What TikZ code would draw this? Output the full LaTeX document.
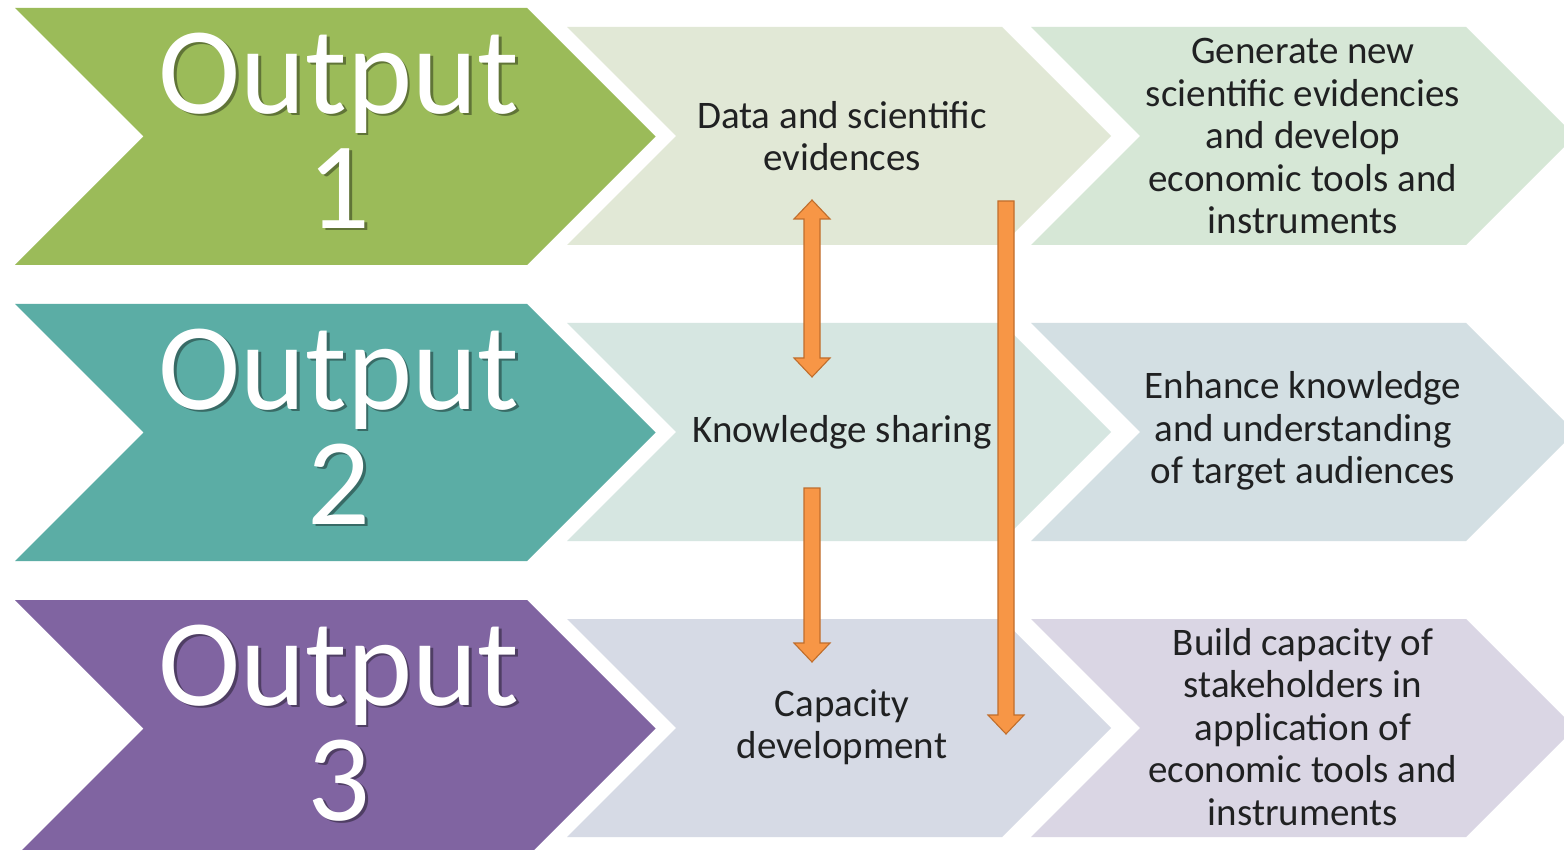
\documentclass[tikz,border=0pt]{standalone}
\usepackage{fontspec}
\setmainfont{Carlito}
\usetikzlibrary{calc}

% palette
\definecolor{outA}{HTML}{9BBB59}
\definecolor{outB}{HTML}{5BADA5}
\definecolor{outC}{HTML}{8064A1}
\definecolor{midA}{HTML}{E1E8D6}
\definecolor{midB}{HTML}{D6E6E1}
\definecolor{midC}{HTML}{D6DAE5}
\definecolor{endA}{HTML}{D6E7D6}
\definecolor{endB}{HTML}{D3DFE3}
\definecolor{endC}{HTML}{DAD6E4}
\definecolor{arrowfill}{HTML}{F79646}
\definecolor{arrowline}{HTML}{C06E2C}
\definecolor{inkdark}{HTML}{202122}

% chevron: fill colour, left x, body right x, top y, half height
\newcommand{\chevshape}[5]{%
  \fill[#1] (#2,#4) -- (#3,#4) -- ({#3+#5},{#4+#5}) -- (#3,{#4+2*#5})
    -- (#2,{#4+2*#5}) -- ({#2+#5},{#4+#5}) -- cycle;}

% vertical block arrow pointing down: x, top y, tip y
\newcommand{\downblock}[3]{%
  \filldraw[blockarrow] ({#1-8},#2) -- ({#1+8},#2) -- ({#1+8},{#3-19})
    -- ({#1+18},{#3-19}) -- (#1,#3) -- ({#1-18},{#3-19}) -- ({#1-8},{#3-19}) -- cycle;}
% vertical block arrow with two heads: x, top tip y, bottom tip y
\newcommand{\twinblock}[3]{%
  \filldraw[blockarrow] (#1,#2) -- ({#1+18},{#2+19}) -- ({#1+8},{#2+19})
    -- ({#1+8},{#3-19}) -- ({#1+18},{#3-19}) -- (#1,#3) -- ({#1-18},{#3-19})
    -- ({#1-8},{#3-19}) -- ({#1-8},{#2+19}) -- ({#1-18},{#2+19}) -- cycle;}

% white lettering with a soft offset shadow in the given colour
\newcommand{\shadowword}[2]{%
  \makebox[0pt][l]{\hspace{2.5pt}\raisebox{-2.5pt}{\textcolor{#1}{#2}}}\textcolor{white}{#2}}

\tikzset{
  bigtxt/.style={align=center, inner sep=0pt,
    font=\fontsize{124}{115}\selectfont},
  smalltxt/.style={text=inkdark, align=center, inner sep=0pt,
    font=\fontsize{39}{42.5}\selectfont},
  blockarrow/.style={fill=arrowfill, draw=arrowline, line width=1.1pt, line join=miter}
}

\begin{document}
\begin{tikzpicture}[x=1pt,y=-1pt]
\useasboundingbox (0,0) rectangle (1564,850);
\clip (0,0) rectangle (1564,850);
\fill[white] (0,0) rectangle (1564,850);

% row 1
\chevshape{midA}{567}{1002}{27}{109}
\chevshape{endA}{1031}{1466}{27}{109}
\chevshape{outA}{15}{527}{8}{128.5}
% row 2
\chevshape{midB}{567}{1002}{323}{109}
\chevshape{endB}{1031}{1466}{323}{109}
\chevshape{outB}{15}{527}{304}{128.5}
% row 3
\chevshape{midC}{567}{1002}{619}{109}
\chevshape{endC}{1031}{1466}{619}{109}
\chevshape{outC}{15}{527}{600}{128.5}

% output labels
\node[bigtxt] (o1) at (339,132) {\shadowword{outA!62!black}{Output}\\\shadowword{outA!62!black}{1}};
\node[bigtxt] (o2) at (339,428) {\shadowword{outB!62!black}{Output}\\\shadowword{outB!62!black}{2}};
\node[bigtxt] (o3) at (339,724) {\shadowword{outC!62!black}{Output}\\\shadowword{outC!62!black}{3}};

% activity labels
\node[smalltxt] (m1) at (842,136) {Data and scientific\\evidences};
\node[smalltxt] (m2) at (842,432) {Knowledge sharing};
\node[smalltxt] (m3) at (842,727) {Capacity\\development};

% result labels
\node[smalltxt] (r1) at (1303,136) {Generate new\\scientific evidencies\\and develop\\economic tools and\\instruments};
\node[smalltxt] (r2) at (1303,431) {Enhance knowledge\\and understanding\\of target audiences};
\node[smalltxt] (r3) at (1303,727) {Build capacity of\\stakeholders in\\application of\\economic tools and\\instruments};

% linking arrows
\twinblock{812}{200}{377}
\downblock{812}{488}{662}
\downblock{1006}{201}{734}
\end{tikzpicture}
\end{document}
